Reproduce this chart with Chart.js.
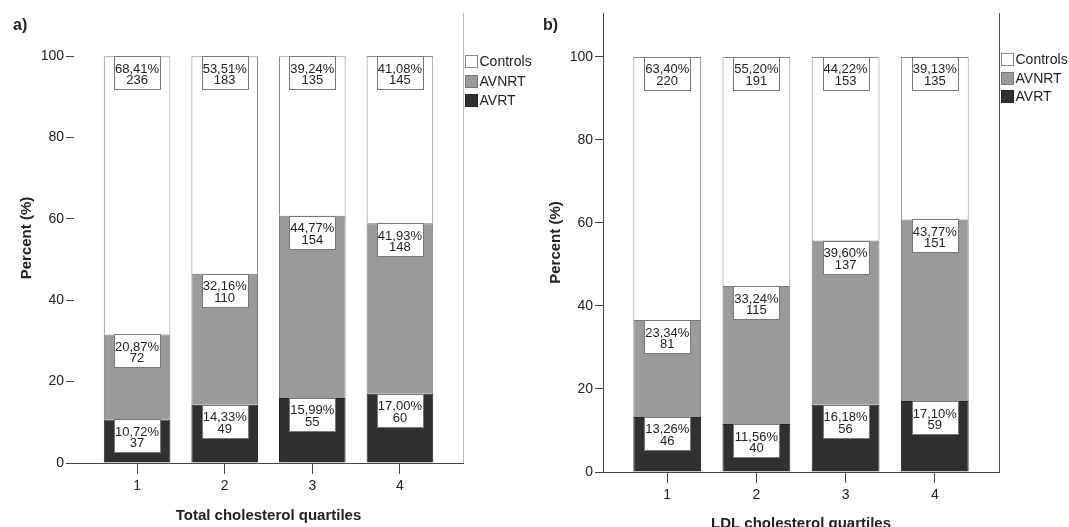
<!DOCTYPE html>
<html>
<head>
<meta charset="utf-8">
<script src="https://cdn.jsdelivr.net/npm/chart.js@4.4.0/dist/chart.umd.min.js"></script>
<style>
    html, body { margin: 0; padding: 0; background: #fff; }
    #wrap { position: relative; width: 1069px; height: 527px; overflow: hidden; }
    canvas { position: absolute; top: 0; }
    #chart-a { left: 0; }
    #chart-b { left: 540px; }
</style>
</head>
<body>
<div id="wrap">
    <canvas id="chart-a" width="540" height="527"></canvas>
    <canvas id="chart-b" width="529" height="527"></canvas>
</div>
<script>
// 資料
const categories = ['1', '2', '3', '4'];
const yTicks = [0, 20, 40, 60, 80, 100];
const seriesNames = ['AVRT', 'AVNRT', 'Controls'];

// a) Total cholesterol quartiles
const tcAvrtPct = [10.72, 14.33, 15.99, 17.00];
const tcAvrtN = [37, 49, 55, 60];
const tcAvnrtPct = [20.87, 32.16, 44.77, 41.93];
const tcAvnrtN = [72, 110, 154, 148];
const tcControlsPct = [68.41, 53.51, 39.24, 41.08];
const tcControlsN = [236, 183, 135, 145];

// b) LDL cholesterol quartiles
const ldlAvrtPct = [13.26, 11.56, 16.18, 17.10];
const ldlAvrtN = [46, 40, 56, 59];
const ldlAvnrtPct = [23.34, 33.24, 39.60, 43.77];
const ldlAvnrtN = [81, 115, 137, 151];
const ldlControlsPct = [63.40, 55.20, 44.22, 39.13];
const ldlControlsN = [220, 191, 153, 135];

const FONT = 'Arial, "Liberation Sans", sans-serif';
Chart.defaults.font.family = FONT;
Chart.defaults.color = '#222';

const fills = ['#303030', '#9a9a9a', '#ffffff'];
const borders = ['#222222', '#777777', '#888888'];

// 在每段頂端畫白色標籤框
const boxLabels = {
    id: 'boxLabels',
    afterDatasetsDraw(chart) {
        const ctx = chart.ctx;
        ctx.save();
        chart.data.datasets.forEach((ds, di) => {
            const meta = chart.getDatasetMeta(di);
            meta.data.forEach((bar, i) => {
                const top = Math.min(bar.y, bar.base);
                const w = 46, h = 33;
                const x0 = Math.round(bar.x - w / 2) + 0.5;
                const y0 = Math.round(top) + 0.5;
                ctx.fillStyle = '#fff';
                ctx.fillRect(x0, y0, w, h);
                ctx.strokeStyle = '#777';
                ctx.lineWidth = 1;
                ctx.strokeRect(x0, y0, w, h);
                ctx.fillStyle = '#222';
                ctx.font = '13px ' + FONT;
                ctx.textAlign = 'center';
                ctx.textBaseline = 'alphabetic';
                const pct = ds.pct[i].toFixed(2).replace('.', ',') + '%';
                ctx.fillText(pct, bar.x, top + 16.5);
                ctx.fillText(String(ds.counts[i]), bar.x, top + 28);
            });
        });
        ctx.restore();
    }
};

// 右側框線、圖例與面板標記
const frameAndLegend = {
    id: 'frameAndLegend',
    afterDraw(chart, args, opts) {
        const {ctx, chartArea} = chart;
        ctx.save();
        ctx.strokeStyle = opts.frameColor;
        ctx.lineWidth = 1;
        ctx.beginPath();
        const xr = Math.round(chartArea.right) + 0.5;
        ctx.moveTo(xr, chartArea.top);
        ctx.lineTo(xr, chartArea.bottom);
        ctx.stroke();

        // 圖例 (Controls, AVNRT, AVRT)
        const order = [2, 1, 0];
        ctx.font = '14px ' + FONT;
        ctx.textAlign = 'left';
        ctx.textBaseline = 'middle';
        order.forEach((k, r) => {
            const ds = chart.data.datasets[k];
            const bx = xr + 2;
            const by = Math.round(opts.legendTop + r * opts.legendStep) + 0.5;
            ctx.fillStyle = ds.backgroundColor;
            ctx.fillRect(bx, by, 12, 12);
            ctx.strokeStyle = ds.borderColor;
            ctx.strokeRect(bx, by, 12, 12);
            ctx.fillStyle = '#222';
            ctx.fillText(ds.label, bx + 14, by + 7);
        });

        ctx.fillStyle = '#222';
        ctx.font = 'bold 16px ' + FONT;
        ctx.fillText(opts.tag, opts.tagX, 26);
        ctx.restore();
    }
};

function makePanel(id, cfg) {
    const pctSets = [cfg.avrtPct, cfg.avnrtPct, cfg.controlsPct];
    const countSets = [cfg.avrtN, cfg.avnrtN, cfg.controlsN];
    const datasets = seriesNames.map((name, k) => ({
        label: name,
        data: pctSets[k].map((v, i) => ({x: i + 1, y: v})),
        pct: pctSets[k],
        counts: countSets[k],
        backgroundColor: fills[k],
        borderColor: borders[k],
        borderWidth: 1,
        stack: 'q',
        categoryPercentage: 1,
        barPercentage: 0.76
    }));

    return new Chart(document.getElementById(id), {
        type: 'bar',
        data: {datasets: datasets},
        options: {
            responsive: false,
            animation: false,
            layout: {padding: {left: cfg.padLeft, top: 13, right: cfg.padRight, bottom: 0}},
            scales: {
                x: {
                    type: 'linear',
                    offset: false,
                    min: 0.28,
                    max: 4.72,
                    afterBuildTicks: s => { s.ticks = categories.map((c, i) => ({value: i + 1})); },
                    afterFit: s => { s.height = cfg.xHeight; },
                    ticks: {
                        callback: v => categories[v - 1],
                        font: {size: 14},
                        padding: 4,
                        color: '#222'
                    },
                    grid: {offset: false, drawOnChartArea: false, drawTicks: true, tickLength: 11, color: '#444'},
                    border: {display: true, color: '#444'},
                    title: {
                        display: true,
                        text: cfg.xTitle,
                        font: {size: 15, weight: 'bold'},
                        padding: {top: 0, bottom: cfg.xTitlePad},
                        color: '#222'
                    }
                },
                y: {
                    stacked: true,
                    min: 0,
                    max: 110.6,
                    afterBuildTicks: s => { s.ticks = yTicks.map(v => ({value: v})); },
                    afterFit: s => { s.width = 60; },
                    ticks: {font: {size: 14}, padding: 2, color: '#222'},
                    grid: {drawOnChartArea: false, drawTicks: true, tickLength: 8, color: '#444'},
                    border: {display: cfg.yBorder, color: '#444'},
                    title: {
                        display: true,
                        text: 'Percent (%)',
                        font: {size: 15, weight: 'bold'},
                        padding: {top: 4, bottom: 0},
                        color: '#222'
                    }
                }
            },
            plugins: {
                legend: {display: false},
                tooltip: {enabled: false},
                frameAndLegend: {
                    frameColor: cfg.frameColor, tag: cfg.tag, tagX: cfg.tagX,
                    legendTop: cfg.legendTop, legendStep: cfg.legendStep
                }
            }
        },
        plugins: [boxLabels, frameAndLegend]
    });
}

makePanel('chart-a', {
    avrtPct: tcAvrtPct, avrtN: tcAvrtN,
    avnrtPct: tcAvnrtPct, avnrtN: tcAvnrtN,
    controlsPct: tcControlsPct, controlsN: tcControlsN,
    xTitle: 'Total cholesterol quartiles',
    tag: 'a)', tagX: 13,
    padLeft: 14, padRight: 77, xHeight: 64, xTitlePad: 2,
    legendTop: 55, legendStep: 19.5,
    yBorder: false, frameColor: '#bbbbbb'
});

makePanel('chart-b', {
    avrtPct: ldlAvrtPct, avrtN: ldlAvrtN,
    avnrtPct: ldlAvnrtPct, avnrtN: ldlAvnrtN,
    controlsPct: ldlControlsPct, controlsN: ldlControlsN,
    xTitle: 'LDL cholesterol quartiles',
    tag: 'b)', tagX: 3,
    padLeft: 3, padRight: 70, xHeight: 55, xTitlePad: -6,
    legendTop: 53, legendStep: 18.5,
    yBorder: true, frameColor: '#555555'
});
</script>
</body>
</html>
